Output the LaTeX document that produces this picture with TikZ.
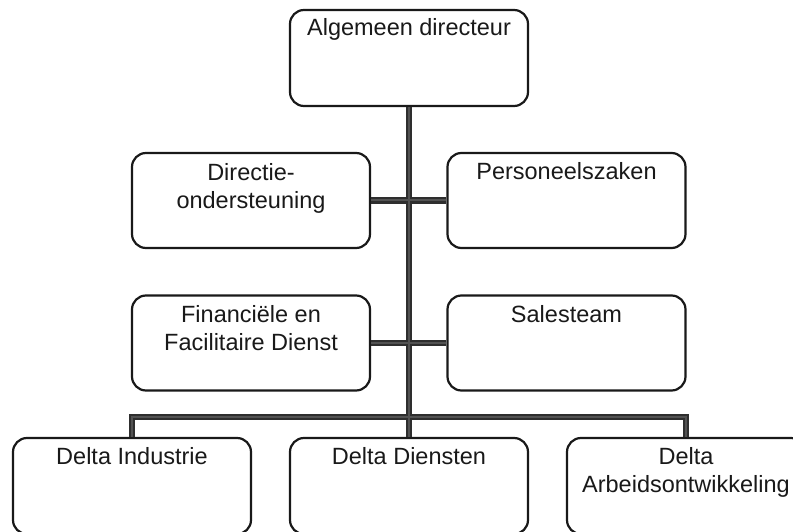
\documentclass[tikz,border=0pt]{standalone}
\usepackage{fontspec}
\setmainfont{Liberation Sans}
\usetikzlibrary{calc}
\begin{document}
\begin{tikzpicture}[x=1pt,y=-1pt,
  box/.style={draw=black!90, line width=2.2pt, rounded corners=14pt, minimum width=238pt, minimum height=95pt, inner sep=0pt, fill=white},
  txt/.style={font=\fontsize{23.5}{28}\selectfont, text=black!90, anchor=base, inner sep=0pt},
  conn/.style={draw=black!82, line width=6.2pt, line join=miter},
  conninner/.style={draw=black!68, line width=2pt, line join=miter}
]
\useasboundingbox (0,0) rectangle (793,532);
\clip (0,0) rectangle (793,532);
\fill[white] (0,0) rectangle (793,532);

% boxes
\node[box, minimum height=96pt] (top) at (409,58) {};
\node[box] (dir) at (251,200.5) {};
\node[box] (per) at (566.5,200.5) {};
\node[box] (fin) at (251,343) {};
\node[box] (sal) at (566.5,343) {};
\node[box, minimum height=96pt] (ind) at (132,486) {};
\node[box, minimum height=96pt] (die) at (409,486) {};
\node[box, minimum height=96pt] (arb) at (686,486) {};

% connectors
\coordinate (bar) at (409,417);
\foreach \st in {conn,conninner}{
  \draw[\st] (top.south) -- (die.north);
  \draw[\st] (dir.east) -- (per.west);
  \draw[\st] (fin.east) -- (sal.west);
  \draw[\st] (ind.north) |- (bar) -| (arb.north);
}

% texts
\node[txt] (ttop) at ($(top.north)+(0,27)$) {Algemeen directeur};
\node[txt] (tdir1) at ($(dir.north)+(0,29)$) {Directie-};
\node[txt] (tdir2) at ($(dir.north)+(0,57)$) {ondersteuning};
\node[txt] (tper) at ($(per.north)+(0,28)$) {Personeelszaken};
\node[txt] (tfin1) at ($(fin.north)+(0,28)$) {Financiële en};
\node[txt] (tfin2) at ($(fin.north)+(0,56)$) {Facilitaire Dienst};
\node[txt] (tsal) at ($(sal.north)+(0,28)$) {Salesteam};
\node[txt] (tind) at ($(ind.north)+(0,28)$) {Delta Industrie};
\node[txt] (tdie) at ($(die.north)+(0,28)$) {Delta Diensten};
\node[txt] (tarb1) at ($(arb.north)+(0,28)$) {Delta};
\node[txt] (tarb2) at ($(arb.north)+(0,56)$) {Arbeidsontwikkeling};
\end{tikzpicture}
\end{document}
